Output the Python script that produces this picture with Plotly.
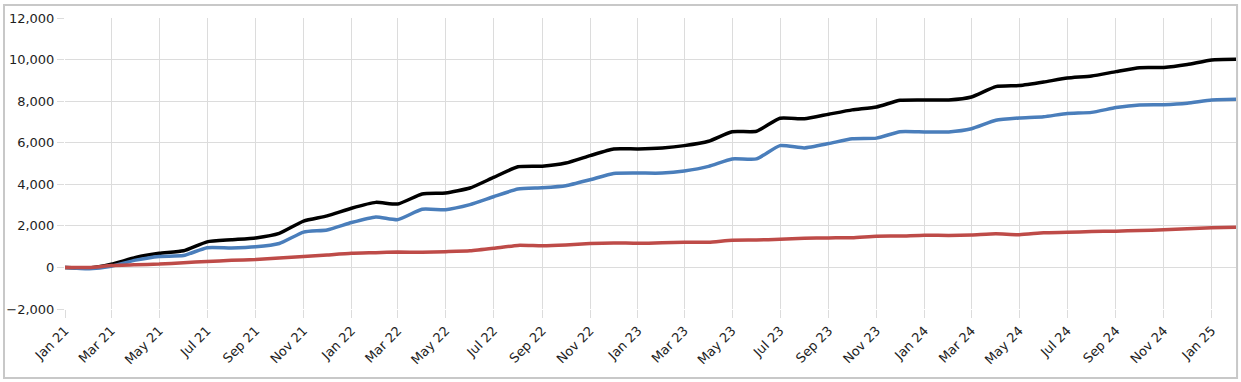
import plotly.graph_objects as go
import pandas as pd

months = pd.date_range("2021-01-01", "2025-02-01", freq="MS")

total = [0, -30, 150, 480, 680, 800, 1230, 1330, 1420, 1640, 2230, 2480,
         2850, 3130, 3050, 3530, 3580, 3820, 4330, 4840, 4870, 5020, 5380, 5700,
         5700, 5750, 5860, 6070, 6530, 6550, 7180, 7150, 7370, 7580, 7720, 8040,
         8060, 8060, 8200, 8700, 8750, 8920, 9110, 9210, 9420, 9610, 9620, 9760,
         9980, 10010]

blue_series = [0, -60, 60, 350, 530, 570, 950, 940, 990, 1150, 1700, 1800,
               2160, 2430, 2300, 2800, 2780, 3020, 3400, 3770, 3830, 3930, 4220, 4520,
               4540, 4540, 4640, 4860, 5220, 5220, 5860, 5750, 5960, 6190, 6220, 6530,
               6520, 6520, 6670, 7080, 7190, 7250, 7410, 7460, 7690, 7820, 7830, 7900,
               8060, 8090]

red_series = [0, 0, 90, 130, 160, 230, 280, 340, 380, 450, 520, 600,
              680, 710, 740, 730, 760, 800, 920, 1060, 1040, 1080, 1150, 1180,
              1160, 1190, 1210, 1210, 1310, 1320, 1350, 1400, 1420, 1430, 1500, 1510,
              1550, 1540, 1560, 1620, 1570, 1670, 1690, 1730, 1740, 1780, 1810, 1860,
              1910, 1930]

fig = go.Figure()
for name, vals, col in [("Total", total, "#000000"),
                        ("Series A", blue_series, "#4A7EBB"),
                        ("Series B", red_series, "#BE4B48")]:
    fig.add_trace(go.Scatter(x=months, y=vals, mode="lines", name=name,
                             line=dict(color=col, width=3.5, shape="spline", smoothing=0.5)))

grid = "#DCDCDC"
fig.update_layout(
    width=1241, height=382,
    margin=dict(l=65, r=5, t=18, b=73),
    paper_bgcolor="white", plot_bgcolor="white",
    showlegend=False,
    font=dict(family="DejaVu Sans, sans-serif", size=13, color="#1e1e1e"),
    xaxis=dict(type="date", range=["2021-01-01", "2025-02-01"],
               tick0="2021-01-01", dtick="M2", tickformat="%b %y",
               tickangle=-45, showgrid=True, gridcolor=grid, gridwidth=1,
               ticks="outside", ticklen=8, tickcolor=grid, showline=False,
               zeroline=False, automargin=False),
    yaxis=dict(range=[-2000, 12000], dtick=2000, tickformat=",",
               showgrid=True, gridcolor=grid, gridwidth=1,
               ticks="outside", ticklen=7, tickcolor=grid,
               zeroline=False, showline=False, automargin=False),
    shapes=[dict(type="rect", xref="paper", yref="paper",
                 x0=-0.0521, x1=1.0009, y0=-0.2371, y1=1.0447,
                 line=dict(color="#C8C8C8", width=2), fillcolor="rgba(0,0,0,0)",
                 layer="below")],
)

fig.write_html("out.html", config={"displayModeBar": False},
               post_script="document.body.style.margin='0';document.body.style.overflow='hidden';")
